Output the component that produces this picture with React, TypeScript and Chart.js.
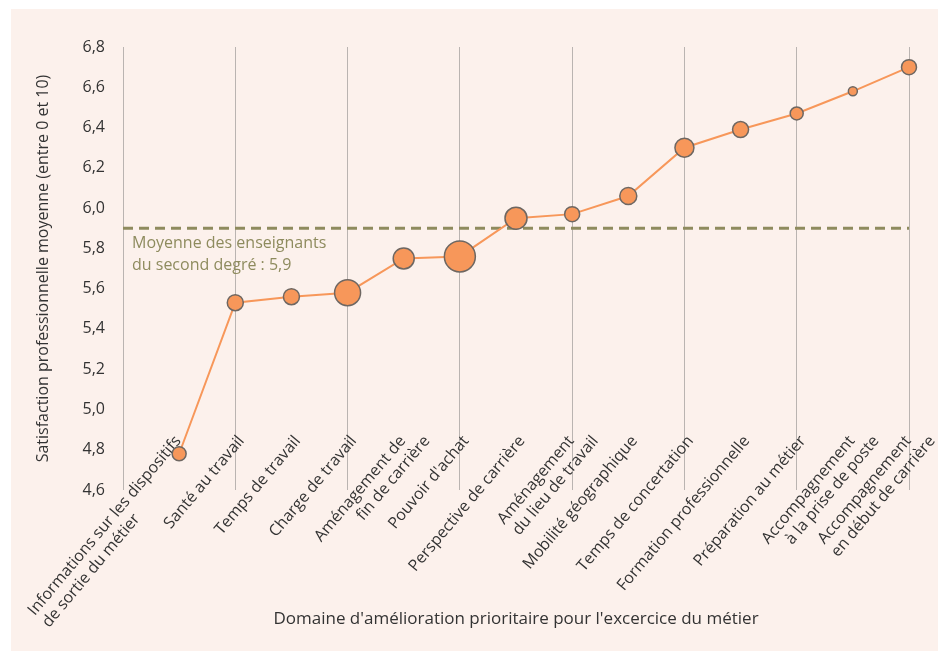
import React, { useEffect, useRef } from "react";
import { Chart, registerables } from "chart.js";

Chart.register(...registerables);

const categories: (string | string[])[] = [
  "",
  ["Informations sur les dispositifs", "de sortie du métier"],
  "Santé au travail",
  "Temps de travail",
  "Charge de travail",
  ["Aménagement de", "fin de carrière"],
  "Pouvoir d'achat",
  "Perspective de carrière",
  ["Aménagement", "du lieu de travail"],
  "Mobilité géographique",
  "Temps de concertation",
  "Formation professionnelle",
  "Préparation au métier",
  ["Accompagnement", "à la prise de poste"],
  ["Accompagnement", "en début de carrière"],
];

const satisfaction: (number | null)[] = [
  null, 4.78, 5.53, 5.56, 5.58, 5.75, 5.76, 5.95, 5.97, 6.06, 6.30, 6.39, 6.47, 6.58, 6.70,
];

// relative weight of each domain (bubble radius)
const effectifs: number[] = [0, 7, 8, 8, 13, 10.5, 15.5, 11, 7.5, 8.5, 9.5, 8, 6.5, 4.5, 7.5];

const moyenneSecondDegre = 5.9;
const moyenneLabel = ["Moyenne des enseignants", "du second degré : 5,9"];

const yMin = 4.6;
const yMax = 6.8;
const yStep = 0.2;

const yTitle = "Satisfaction professionnelle moyenne (entre 0 et 10)";
const xTitle = "Domaine d'amélioration prioritaire pour l'excercice du métier";

const FONT = "'Open Sans', 'Noto Sans', sans-serif";
const TEXT = "#333333";

export default function App() {
  const ref = useRef<HTMLCanvasElement>(null);

  useEffect(() => {
    if (!ref.current) return;
    const annotation = {
      id: "moyenneLabel",
      afterDatasetsDraw(chart: any) {
        const { ctx, chartArea, scales } = chart;
        const y = scales.y.getPixelForValue(moyenneSecondDegre);
        ctx.save();
        ctx.font = `500 16px ${FONT}`;
        ctx.fillStyle = "#8e8b5e";
        ctx.textAlign = "left";
        ctx.textBaseline = "middle";
        ctx.fillText(moyenneLabel[0], chartArea.left + 9, y + 15);
        ctx.fillText(moyenneLabel[1], chartArea.left + 9, y + 37);
        ctx.restore();
      },
    };

    const rotatedLabels = {
      id: "rotatedLabels",
      beforeDatasetsDraw(chart: any) {
        const { ctx } = chart;
        const xs = chart.scales.x;
        const deg = 50;
        const rad = (deg * Math.PI) / 180;
        const angle = -rad;
        const lh = 18.5;
        const d = lh / Math.sin(rad);
        const ux = Math.cos(rad);
        const uy = -Math.sin(rad);
        ctx.save();
        ctx.font = `16px ${FONT}`;
        ctx.fillStyle = TEXT;
        ctx.textBaseline = "top";
        const drawAt = (text: string, x: number, y: number, align: CanvasTextAlign) => {
          ctx.save();
          ctx.translate(x, y);
          ctx.rotate(angle);
          ctx.textAlign = align;
          ctx.fillText(text, 0, 0);
          ctx.restore();
        };
        categories.forEach((lab, i) => {
          const lines = Array.isArray(lab) ? lab : [lab];
          const n = lines.length;
          const px = xs.getPixelForValue(i);
          const y0 = xs.top - 57;
          const ex0 = px - (n - 1) * 7;
          drawAt(lines[0], ex0, y0, "right");
          if (n > 1) {
            const w0 = ctx.measureText(lines[0]).width;
            const w1 = ctx.measureText(lines[1]).width;
            if (w0 - w1 > 60) {
              // long first line: second line starts under the first one
              const sx = ex0 - w0 * ux + lh * Math.sin(rad);
              const sy = y0 - w0 * uy + lh * Math.cos(rad);
              drawAt(lines[1], sx, sy, "left");
            } else {
              drawAt(lines[1], ex0 + d, y0, "right");
            }
          }
        });
        ctx.restore();
      },
    };

    const chart = new Chart(ref.current, {
      type: "line",
      data: {
        labels: categories,
        datasets: [
          {
            label: "Satisfaction",
            data: satisfaction,
            borderColor: "#f7975a",
            borderWidth: 2,
            backgroundColor: "#f7975a",
            pointBackgroundColor: "#f7975a",
            pointBorderColor: "#6e6762",
            pointBorderWidth: 1.5,
            pointRadius: effectifs,
            tension: 0,
            order: 1,
          },
          {
            label: "Moyenne",
            data: categories.map(() => moyenneSecondDegre),
            borderColor: "#8e8b5e",
            borderWidth: 3,
            borderDash: [10, 6],
            pointRadius: 0,
            fill: false,
            order: 2,
          },
        ],
      },
      options: {
        responsive: false,
        animation: false,
        layout: { padding: { left: 19, right: 29, top: 38, bottom: 18 } },
        plugins: { legend: { display: false }, tooltip: { enabled: false } },
        scales: {
          x: {
            type: "category",
            offset: false,
            border: { display: false },
            grid: {
              drawTicks: false,
              color: (c: any) => (c.index % 2 === 0 ? "#bab4b1" : "rgba(0,0,0,0)"),
              lineWidth: 1,
            },
            ticks: { display: false, autoSkip: false },
            title: {
              display: true,
              text: xTitle,
              color: TEXT,
              font: { family: FONT, size: 17 },
            },
            afterFit: (s: any) => {
              s.height = 143;
            },
          },
          y: {
            min: yMin,
            max: yMax,
            border: { display: false },
            grid: { display: false, drawTicks: false },
            ticks: {
              stepSize: yStep,
              padding: 18,
              color: TEXT,
              font: { family: FONT, size: 16 },
              callback: (v: any) => Number(v).toFixed(1).replace(".", ","),
            },
            title: {
              display: true,
              text: yTitle,
              color: TEXT,
              font: { family: FONT, size: 16 },
            },
            afterFit: (s: any) => {
              s.width = 93;
            },
          },
        },
      },
      plugins: [annotation, rotatedLabels],
    });
    return () => chart.destroy();
  }, []);

  return (
    <div
      style={{
        position: "absolute",
        left: 11,
        top: 9,
        width: 927,
        height: 642,
        background: "#fcf1ec",
      }}
    >
      <canvas ref={ref} width={927} height={642} style={{ display: "block" }} />
    </div>
  );
}
